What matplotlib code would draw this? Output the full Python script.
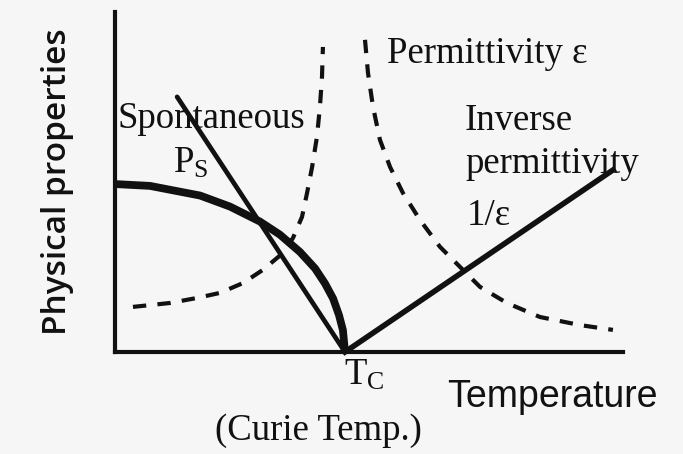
import matplotlib
matplotlib.use("Agg")
import matplotlib.pyplot as plt
import numpy as np

# temperature / property values in arbitrary units (Tc = 100)
ps_temp = [0, 15.2, 37.0, 50.0, 63.0, 71.7, 80.4, 87.0, 91.3, 94.8, 97.4, 99.1, 100]
ps_val = [73.0, 72.2, 68.0, 63.2, 56.7, 51.0, 43.5, 36.3, 29.8, 23.3, 16.0, 9.5, 0]

ps_lin_temp = [27.0, 100]
ps_lin_val = [110.9, 0]

eps_low_temp = [7.8, 23.9, 35.7, 45.7, 55.7, 64.3, 73.0, 77.4, 81.3, 83.5, 85.7, 87.8, 89.1, 90.0, 90.4]
eps_low_val = [19.6, 21.3, 23.5, 25.7, 30.0, 35.7, 43.0, 49.6, 58.7, 69.1, 80.4, 93.5, 106.5, 119.6, 132.6]

eps_high_temp = [108.7, 110.0, 112.2, 115.2, 119.6, 125.2, 132.6, 141.3, 150.0, 158.7, 170.4, 184.8, 202.2, 216.5]
eps_high_val = [135.7, 121.3, 106.5, 92.2, 80.4, 69.1, 57.4, 45.7, 37.0, 28.3, 21.3, 15.2, 11.7, 9.6]

inv_temp = [100, 216.5]
inv_val = [0, 79.1]

ink = "#111111"
serif = "Liberation Serif"

fig = plt.figure(figsize=(6.83, 4.54), dpi=100, facecolor="#f6f6f6")
ax = fig.add_axes([0.1684, 0.2247, 0.7438, 0.7489])
ax.set_facecolor("none")
ax.set_xlim(0, 220.9)
ax.set_ylim(0, 147.8)
for s in ["top", "right"]:
    ax.spines[s].set_visible(False)
for s in ["left", "bottom"]:
    ax.spines[s].set_linewidth(3.0)
    ax.spines[s].set_color(ink)
ax.set_xticks([])
ax.set_yticks([])

ax.plot(eps_low_temp, eps_low_val, color=ink, lw=3.0, dashes=(3.2, 2.7),
        dash_capstyle="butt", clip_on=False)
ax.plot(eps_high_temp, eps_high_val, color=ink, lw=3.0, dashes=(3.2, 2.7),
        dash_capstyle="butt", clip_on=False)
ax.plot(ps_lin_temp, ps_lin_val, color=ink, lw=3.4, clip_on=False, solid_capstyle="round")
ax.plot(ps_temp, ps_val, color=ink, lw=5.6, clip_on=False, solid_capstyle="butt")
ax.plot(inv_temp, inv_val, color=ink, lw=4.0, clip_on=False)

kw = dict(fontfamily=serif, fontsize=26.5, color=ink, va="baseline", ha="left")
ax.text(118.3, 125.7, "Permittivity ε", **kw)
ax.text(152.2, 96.5, "Inverse", **kw)
ax.text(152.2, 77.8, "permittivity", **kw)
ax.text(153.0, 55.2, "1/ε", **kw)
ax.text(0.9, 97.4, "Spontaneous", **kw)
ax.text(25.2, 77.8, r"$\mathregular{P_S}$", **kw)
ax.text(99.5, -14.3, r"$\mathregular{T_C}$", **kw)
ax.text(43.5, -38.3, "(Curie Temp.)", **kw)

ax.text(144.3, -23.9, "Temperature", fontfamily="Liberation Sans", fontsize=27,
        color=ink, va="baseline", ha="left")
ax.text(-25.2, 73.9, "Physical properties", fontfamily="Open Sans", fontweight="semibold",
        fontsize=24, color=ink, rotation=90, ha="center", va="center")

fig.savefig("out.png", dpi=100, facecolor=fig.get_facecolor())
